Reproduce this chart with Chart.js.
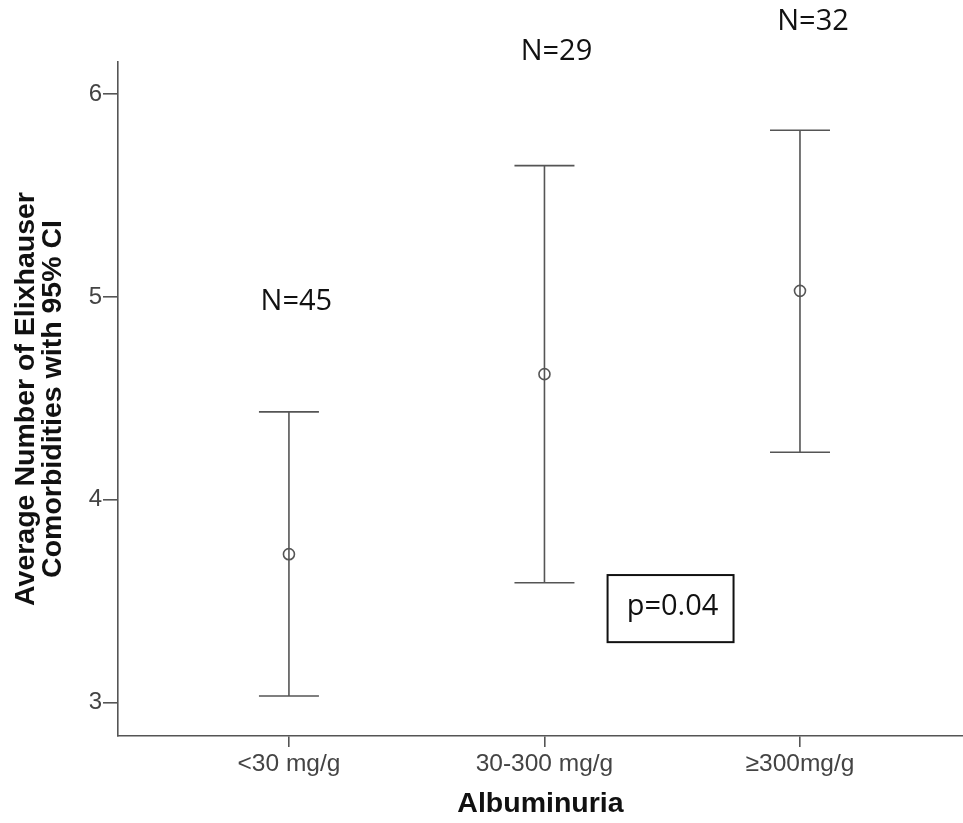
<!DOCTYPE html>
<html>
<head>
<meta charset="utf-8">
<script src="https://cdn.jsdelivr.net/npm/chart.js@4.4.0/dist/chart.umd.min.js"></script>
<style>
  html, body { margin: 0; padding: 0; background: #ffffff; }
  #wrap { width: 963px; height: 823px; position: relative; }
</style>
</head>
<body>
<div id="wrap"><canvas id="c" width="963" height="823"></canvas></div>
<script>
// ---- data ----
const categories = ['<30 mg/g', '30-300 mg/g', '\u2265300mg/g'];
const means      = [3.731, 4.619, 5.030];
const ciLower    = [3.031, 3.590, 4.234];
const ciUpper    = [4.433, 5.648, 5.822];
const nLabels    = ['N=45', 'N=29', 'N=32'];
const yTicks     = [3, 4, 5, 6];
const pText      = 'p=0.04';

// annotation anchors (data coordinates)
const nLabelX = [1.029, 2.047, 3.051];
const nLabelY = [4.974, 6.211, 6.356];
const pBox = { x0: 2.247, x1: 2.740, y0: 3.297, y1: 3.628 };

const AX = '#555555';
const annotFont = '29px "Open Sans", "Noto Sans", sans-serif';

const errorBars = {
  id: 'errorBars',
  beforeDatasetsDraw(chart) {
    const ctx = chart.ctx, xs = chart.scales.x, ys = chart.scales.y;
    ctx.save();
    ctx.strokeStyle = AX;
    ctx.lineWidth = 1.6;
    const half = 30;
    categories.forEach((c, i) => {
      const x = xs.getPixelForValue(i + 1);
      const yl = ys.getPixelForValue(ciLower[i]);
      const yu = ys.getPixelForValue(ciUpper[i]);
      ctx.beginPath();
      ctx.moveTo(x, yl); ctx.lineTo(x, yu);
      ctx.moveTo(x - half, yl); ctx.lineTo(x + half, yl);
      ctx.moveTo(x - half, yu); ctx.lineTo(x + half, yu);
      ctx.stroke();
    });
    ctx.restore();
  },
  afterDraw(chart) {
    const ctx = chart.ctx, xs = chart.scales.x, ys = chart.scales.y;
    ctx.save();
    ctx.fillStyle = '#111';
    ctx.font = annotFont;
    ctx.textAlign = 'center';
    ctx.textBaseline = 'middle';
    nLabels.forEach((t, i) => {
      ctx.fillText(t, xs.getPixelForValue(nLabelX[i]), ys.getPixelForValue(nLabelY[i]));
    });
    const bx0 = xs.getPixelForValue(pBox.x0), bx1 = xs.getPixelForValue(pBox.x1);
    const by0 = ys.getPixelForValue(pBox.y1), by1 = ys.getPixelForValue(pBox.y0);
    ctx.strokeStyle = '#111';
    ctx.lineWidth = 2;
    ctx.strokeRect(bx0, by0, bx1 - bx0, by1 - by0);
    ctx.fillText(pText, (bx0 + bx1) / 2 + 2, (by0 + by1) / 2 - 2);
    ctx.restore();
  }
};

new Chart(document.getElementById('c'), {
  type: 'scatter',
  data: {
    datasets: [{
      data: means.map((m, i) => ({ x: i + 1, y: m })),
      pointStyle: 'circle',
      pointRadius: 5.5,
      pointHoverRadius: 5.5,
      pointBorderWidth: 1.6,
      pointBorderColor: AX,
      pointBackgroundColor: 'rgba(255,255,255,0)',
      showLine: false
    }]
  },
  options: {
    responsive: false,
    animation: false,
    events: [],
    layout: { autoPadding: false, padding: { top: 62, right: 0, bottom: 0, left: 0 } },
    plugins: { legend: { display: false }, tooltip: { enabled: false } },
    scales: {
      x: {
        type: 'linear',
        min: 0.331,
        max: 3.638,
        afterFit(s) { s.height = 87; },
        afterBuildTicks(s) { s.ticks = categories.map((c, i) => ({ value: i + 1 })); },
        ticks: {
          callback: (v) => categories[Math.round(v) - 1],
          font: { family: '"Liberation Sans", Arial, sans-serif', size: 24.5 },
          color: '#444',
          padding: 3,
          maxRotation: 0,
          autoSkip: false
        },
        grid: { drawOnChartArea: false, drawTicks: true, tickLength: 11, color: AX, lineWidth: 1.6 },
        border: { display: true, color: AX, width: 1.6 },
        title: {
          display: true,
          text: 'Albuminuria',
          color: '#111',
          font: { family: '"Liberation Sans", Arial, sans-serif', size: 28.5, weight: 'bold' },
          padding: { top: 0, bottom: 2 }
        }
      },
      y: {
        type: 'linear',
        min: 2.834,
        max: 6.159,
        afterFit(s) { s.width = 118; },
        afterBuildTicks(s) { s.ticks = yTicks.map(v => ({ value: v })); },
        ticks: {
          font: { family: '"Liberation Sans", Arial, sans-serif', size: 24 },
          color: '#444',
          padding: 1
        },
        grid: { drawOnChartArea: false, drawTicks: true, tickLength: 15, color: AX, lineWidth: 1.6 },
        border: { display: true, color: AX, width: 1.6 },
        title: {
          display: true,
          text: ['Average Number of Elixhauser', 'Comorbidities with 95% CI'],
          color: '#111',
          font: { family: '"Liberation Sans", Arial, sans-serif', size: 28.5, weight: 'bold', lineHeight: 0.94 },
          padding: { top: 13, bottom: 0 }
        }
      }
    }
  },
  plugins: [errorBars]
});
</script>
</body>
</html>
